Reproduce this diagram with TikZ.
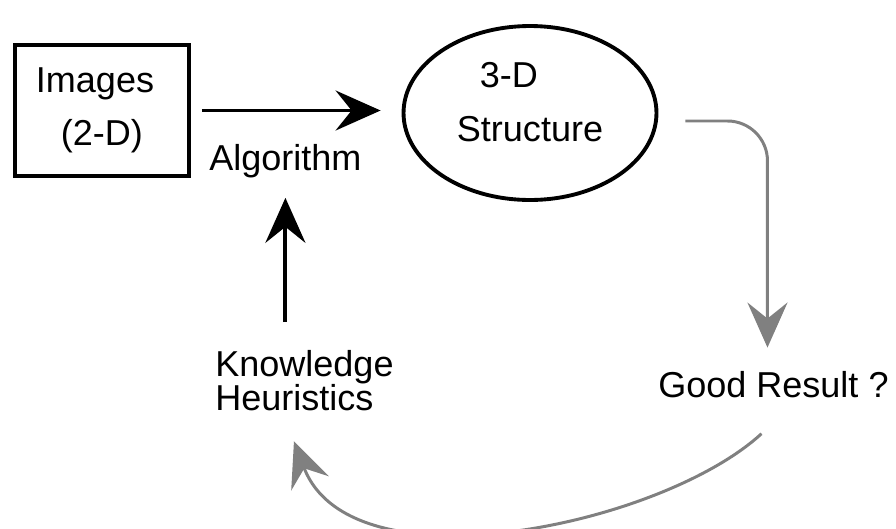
\documentclass[tikz,border=0pt]{standalone}
\usepackage{fontspec}
\setmainfont{Liberation Sans}
\usepackage{tikz}
\usetikzlibrary{arrows.meta,shapes.geometric}

\begin{document}
\begin{tikzpicture}[x=0.02cm,y=-0.02cm,>={Stealth[length=0.9cm,width=0.8cm,inset=0.32cm]},
        lbl/.style={inner sep=0pt,font=\fontsize{20.5}{24}\selectfont},
        blk/.style={line width=2.2pt},
        shade/.style={line width=1.7pt,draw=black!50}]
        \useasboundingbox(0,0)rectangle(896,528);
        \node[lbl,draw,blk,align=left,minimum width=3.48cm,minimum height=2.62cm,
            font=\fontsize{20.5}{30.2}\selectfont](img)at(102,110.5)
            {Images\rule{0.28cm}{0pt}\\\hspace*{0.5cm}(2-D)};
        \node[lbl,draw,blk,ellipse,align=left,minimum width=5.06cm,minimum height=3.48cm,
            font=\fontsize{20.5}{30.7}\selectfont](str)at(530,113)
            {\hspace*{0.46cm}3-D\\Structure\rule[-0.44cm]{0pt}{0.44cm}};
        \node[lbl,anchor=base west](alg)at(209,170){Algorithm};
        \node[lbl,align=left,anchor=north west,
            font=\fontsize{20.5}{19.4}\selectfont](kh)at(215,350)
            {Knowledge\\Heuristics};
        \node[lbl,anchor=base west](good)at(658,397){Good Result ?};
        \draw[->,blk,shorten <=0.22cm,shorten >=0.42cm](img.east)--(img.east-|str.west);
        \draw[->,blk,shorten <=0.56cm,shorten >=0.4cm](kh.north-|alg.south)--(alg.south);
        \draw[->,shade,rounded corners=0.8cm]([xshift=0.54cm,yshift=-0.16cm]str.east)
            -|([xshift=-0.12cm,yshift=0.46cm]good.north);
        \draw[->,shade]([xshift=-0.24cm,yshift=-0.72cm]good.south)
            ..controls +(-100,92) and +(57,150)..([xshift=-0.21cm,yshift=-0.6cm]kh.south);
    \end{tikzpicture}
\end{document}
